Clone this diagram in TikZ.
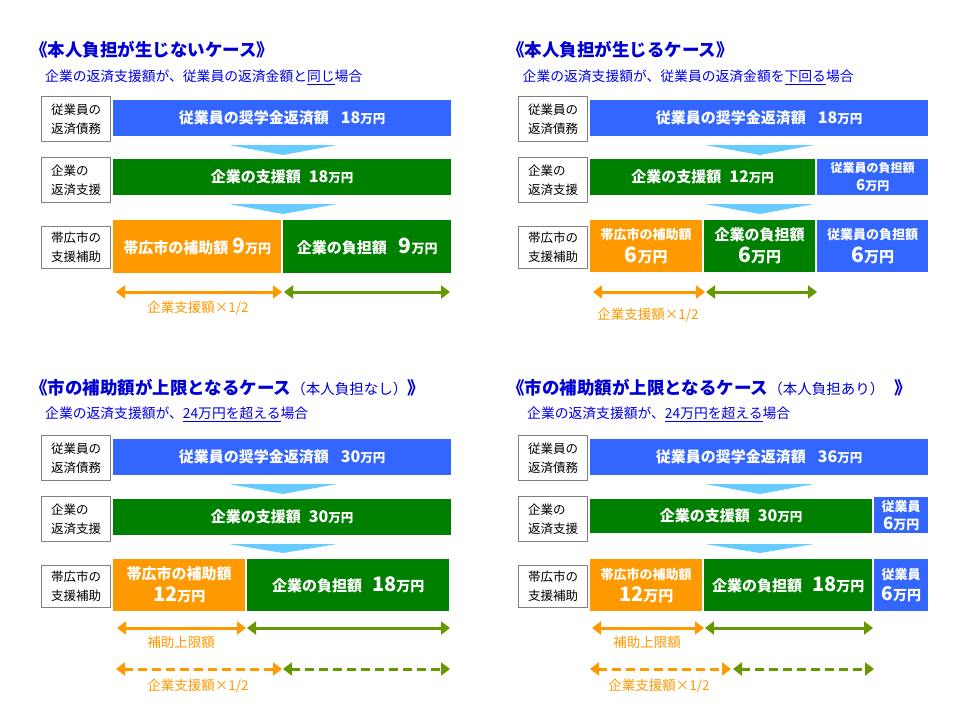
\documentclass[tikz,border=0pt]{standalone}
\usepackage{fontspec}
\setmainfont{Noto Sans CJK JP}
\usetikzlibrary{arrows.meta}

\definecolor{titleblue}{RGB}{0,0,214}
\definecolor{subblue}{RGB}{0,0,235}
\definecolor{barblue}{RGB}{51,102,255}
\definecolor{bargreen}{RGB}{0,128,0}
\definecolor{barorange}{RGB}{255,153,0}
\definecolor{chevblue}{RGB}{102,204,255}
\definecolor{arrowgreen}{RGB}{102,153,0}
\definecolor{boxgray}{RGB}{128,128,128}

\newcommand{\yenamt}[3]{{\fontsize{#1}{#1}\selectfont #3}{\fontsize{#2}{#2}\selectfont 万円}}

\tikzset{
  title/.style={anchor=west, inner sep=0pt, text=titleblue, font=\bfseries\fontsize{17.5}{20}\selectfont},
  subtitle/.style={anchor=west, inner sep=0pt, text=subblue, font=\fontsize{13.8}{16}\selectfont},
  lbox/.style={anchor=north west, draw=boxgray, fill=white, line width=1pt, inner sep=0pt,
    minimum width=69pt, minimum height=45pt, align=left, font=\fontsize{12.5}{19}\selectfont},
  bar/.style={anchor=north west, inner sep=0pt, text=white, align=center,
    font=\bfseries\fontsize{15}{22}\selectfont},
  chev/.style={fill=chevblue},
  dbl/.style={line width=3pt, {Triangle[width=13pt,length=9pt]}-{Triangle[width=13pt,length=9pt]}},
  note/.style={inner sep=0pt, text=barorange, font=\fontsize{13.5}{16}\selectfont}
}

\begin{document}
\begin{tikzpicture}[x=1pt,y=-1pt]
\useasboundingbox[fill=white] (0,0) rectangle (960,720);

% case 1
\node[title] (t1) at (30,50) {《本人負担が生じないケース》};
\node[subtitle] (s1) at (45,77) {企業の返済支援額が、従業員の返済金額と\underline{同じ}場合};

\node[lbox] (l1a) at (41,96) {従業員の\\返済債務};
\node[lbox] (l1b) at (41,157) {企業の\\返済支援};
\node[lbox, minimum height=42pt] (l1c) at (41,226) {帯広市の\\支援補助};

\node[bar, fill=barblue, minimum width=338pt, minimum height=36pt] (b1a) at (113,100) {従業員の奨学金返済額\hspace{12pt}\yenamt{16}{12.5}{18}};
\fill[chev] (229,145) -- (337,145) -- (283,155) -- cycle;
\node[bar, fill=bargreen, minimum width=338pt, minimum height=36pt] (b1b) at (113,159) {企業の支援額\hspace{8pt}\yenamt{16}{12.5}{18}};
\fill[chev] (229,204) -- (337,204) -- (283,214) -- cycle;
\node[bar, fill=barorange, minimum width=168pt, minimum height=53pt] (b1c) at (113,220) {帯広市の補助額\hspace{4pt}\yenamt{21}{13}{9}};
\node[bar, fill=bargreen, minimum width=168pt, minimum height=53pt] (b1d) at (283,220) {企業の負担額\hspace{12pt}\yenamt{21}{13}{9}};

\coordinate (p1a) at (116,292);
\coordinate (p1b) at (282,292);
\coordinate (p1c) at (284,292);
\coordinate (p1d) at (450,292);
\draw[dbl, barorange] (p1a) -- (p1b);
\draw[dbl, arrowgreen] (p1c) -- (p1d);
\node[note] (n1) at (198,308) {企業支援額×1/2};

% case 2
\begin{scope}[shift={(477,0)}]
\node[title] (t2) at (30,50) {《本人負担が生じるケース》};
\node[subtitle] (s2) at (45.5,77) {企業の返済支援額が、従業員の返済金額を\underline{下回る}場合};

\node[lbox] (l2a) at (41,96) {従業員の\\返済債務};
\node[lbox] (l2b) at (41,157) {企業の\\返済支援};
\node[lbox, minimum height=42pt] (l2c) at (41,226) {帯広市の\\支援補助};

\node[bar, fill=barblue, minimum width=338pt, minimum height=36pt] (b2a) at (113,100) {従業員の奨学金返済額\hspace{12pt}\yenamt{16}{12.5}{18}};
\fill[chev] (228,145) -- (337,145) -- (283,155) -- cycle;
\node[bar, fill=bargreen, minimum width=225pt, minimum height=36pt] (b2b) at (113,159) {企業の支援額\hspace{8pt}\yenamt{16}{12.5}{12}};
\node[bar, fill=barblue, minimum width=111pt, minimum height=36pt, font=\bfseries\fontsize{12}{18}\selectfont] (b2c) at (340,159) {従業員の負担額\\\yenamt{15}{12}{6}};
\fill[chev] (228,204) -- (337,204) -- (283,214) -- cycle;
\node[bar, fill=barorange, minimum width=112pt, minimum height=52pt, font=\bfseries\fontsize{13}{23}\selectfont] (b2d) at (113,220) {帯広市の補助額\\\yenamt{21}{15}{6}};
\node[bar, fill=bargreen, minimum width=111pt, minimum height=52pt] (b2e) at (227,220) {企業の負担額\\\yenamt{21}{15}{6}};
\node[bar, fill=barblue, minimum width=111pt, minimum height=52pt, font=\bfseries\fontsize{13}{23}\selectfont] (b2f) at (340,220) {従業員の負担額\\\yenamt{21}{15}{6}};

\coordinate (p2a) at (116,292);
\coordinate (p2b) at (228,292);
\coordinate (p2c) at (229,292);
\coordinate (p2d) at (340,292);
\draw[dbl, barorange] (p2a) -- (p2b);
\draw[dbl, arrowgreen] (p2c) -- (p2d);
\node[note] (n2) at (171,315) {企業支援額×1/2};
\end{scope}

% case 3
\begin{scope}[shift={(0,339)}]
\node[title] (t3) at (30,49) {《市の補助額が上限となるケース{\mdseries\fontsize{14.5}{16}\selectfont （本人負担なし）}》};
\node[subtitle] (s3) at (45,75) {企業の返済支援額が、\underline{24万円を超える}場合};

\node[lbox] (l3a) at (41,96) {従業員の\\返済債務};
\node[lbox] (l3b) at (41,157) {企業の\\返済支援};
\node[lbox, minimum height=42pt] (l3c) at (41,226) {帯広市の\\支援補助};

\node[bar, fill=barblue, minimum width=338pt, minimum height=36pt] (b3a) at (113,100) {従業員の奨学金返済額\hspace{12pt}\yenamt{16}{12.5}{30}};
\fill[chev] (229,145) -- (337,145) -- (283,155) -- cycle;
\node[bar, fill=bargreen, minimum width=338pt, minimum height=36pt] (b3b) at (113,160) {企業の支援額\hspace{8pt}\yenamt{16}{12.5}{30}};
\fill[chev] (229,205) -- (337,205) -- (283,214) -- cycle;
\node[bar, fill=barorange, minimum width=132pt, minimum height=52pt] (b3c) at (113,220) {帯広市の補助額\\\yenamt{20}{14}{12}};
\node[bar, fill=bargreen, minimum width=202pt, minimum height=52pt] (b3d) at (247,220) {企業の負担額\hspace{10pt}\yenamt{20}{14}{18}};

\coordinate (p3a) at (117,289);
\coordinate (p3b) at (246,289);
\coordinate (p3c) at (247,289);
\coordinate (p3d) at (450,289);
\draw[dbl, barorange] (p3a) -- (p3b);
\draw[dbl, arrowgreen] (p3c) -- (p3d);
\node[note] (n3a) at (181,303) {補助上限額};

\coordinate (p3e) at (116,330);
\coordinate (p3f) at (282,330);
\coordinate (p3g) at (283,330);
\coordinate (p3h) at (450,330);
\draw[dbl, barorange, dash pattern=on 9pt off 5pt] (p3e) -- (p3f);
\draw[dbl, arrowgreen, dash pattern=on 9pt off 5pt] (p3g) -- (p3h);
\node[note] (n3b) at (198,347) {企業支援額×1/2};
\end{scope}

% case 4
\begin{scope}[shift={(477,339)}]
\node[title] (t4) at (30,49) {《市の補助額が上限となるケース{\mdseries\fontsize{14.5}{16}\selectfont （本人負担あり）}\hspace{10pt}》};
\node[subtitle] (s4) at (50,75) {企業の返済支援額が、\underline{24万円を超える}場合};

\node[lbox] (l4a) at (41,96) {従業員の\\返済債務};
\node[lbox] (l4b) at (41,157) {企業の\\返済支援};
\node[lbox, minimum height=42pt] (l4c) at (41,226) {帯広市の\\支援補助};

\node[bar, fill=barblue, minimum width=338pt, minimum height=36pt] (b4a) at (113,100) {従業員の奨学金返済額\hspace{12pt}\yenamt{16}{12.5}{36}};
\fill[chev] (228,145) -- (337,145) -- (283,155) -- cycle;
\node[bar, fill=bargreen, minimum width=282pt, minimum height=34pt] (b4b) at (113,160) {企業の支援額\hspace{8pt}\yenamt{16}{12.5}{30}};
\node[bar, fill=barblue, minimum width=54pt, minimum height=36pt, font=\bfseries\fontsize{13}{18}\selectfont] (b4c) at (397,158) {従業員\\\yenamt{17}{13}{6}};
\fill[chev] (228,205) -- (337,205) -- (283,214) -- cycle;
\node[bar, fill=barorange, minimum width=112pt, minimum height=52pt, font=\bfseries\fontsize{13}{22}\selectfont] (b4d) at (113,220) {帯広市の補助額\\\yenamt{20}{15}{12}};
\node[bar, fill=bargreen, minimum width=168pt, minimum height=52pt] (b4e) at (227,220) {企業の負担額\hspace{10pt}\yenamt{20}{14}{18}};
\node[bar, fill=barblue, minimum width=54pt, minimum height=52pt, font=\bfseries\fontsize{13}{21}\selectfont] (b4f) at (397,220) {従業員\\\yenamt{19}{14}{6}};

\coordinate (p4a) at (115,289);
\coordinate (p4b) at (227,289);
\coordinate (p4c) at (228,289);
\coordinate (p4d) at (396,289);
\draw[dbl, barorange] (p4a) -- (p4b);
\draw[dbl, arrowgreen] (p4c) -- (p4d);
\node[note] (n4a) at (170,303) {補助上限額};

\coordinate (p4e) at (113,330);
\coordinate (p4f) at (254,330);
\coordinate (p4g) at (256,330);
\coordinate (p4h) at (397,330);
\draw[dbl, barorange, dash pattern=on 9pt off 5pt] (p4e) -- (p4f);
\draw[dbl, arrowgreen, dash pattern=on 9pt off 5pt] (p4g) -- (p4h);
\node[note] (n4b) at (182,347) {企業支援額×1/2};
\end{scope}

\end{tikzpicture}
\end{document}
